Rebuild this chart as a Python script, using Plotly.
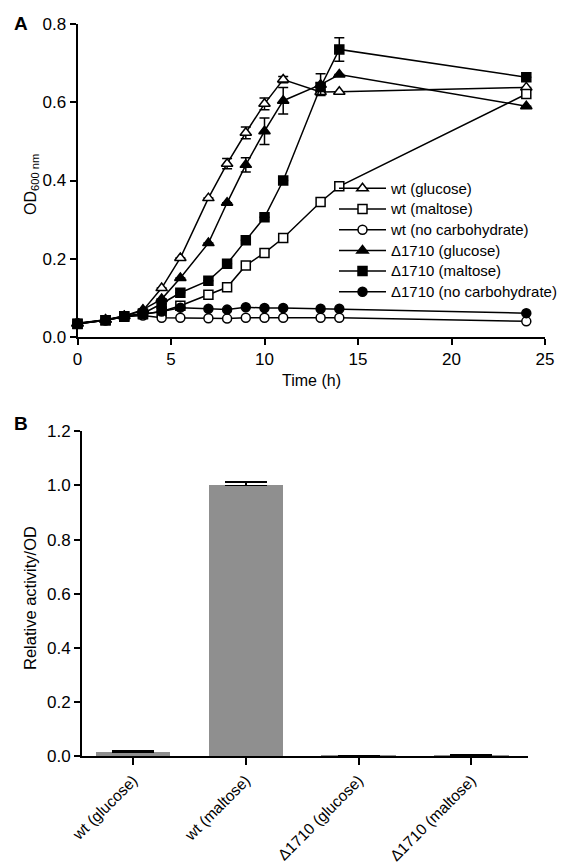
import plotly.graph_objects as go

# ---------------- Panel A data ----------------
time_h = [0, 1.5, 2.5, 3.5, 4.5, 5.5, 7, 8, 9, 10, 11, 13, 14, 24]

wt_glucose = [0.035, 0.044, 0.053, 0.068, 0.125, 0.202, 0.355, 0.443, 0.522, 0.596, 0.658, 0.626, 0.627, 0.638]
wt_glucose_err = [0, 0, 0, 0, 0, 0, 0, 0.013, 0.015, 0.015, 0.008, 0, 0, 0]

wt_maltose = [0.034, 0.043, 0.052, 0.058, 0.065, 0.080, 0.108, 0.127, 0.183, 0.215, 0.253, 0.345, 0.385, 0.621]

wt_nocarb = [0.035, 0.043, 0.052, 0.055, 0.049, 0.049, 0.048, 0.047, 0.049, 0.049, 0.049, 0.049, 0.049, 0.040]

d1710_glucose = [0.034, 0.044, 0.054, 0.070, 0.097, 0.151, 0.240, 0.343, 0.440, 0.526, 0.604, 0.645, 0.671, 0.590]
d1710_glucose_err = [0, 0, 0, 0, 0, 0, 0, 0, 0.018, 0.034, 0.034, 0.028, 0, 0]

d1710_maltose = [0.033, 0.043, 0.053, 0.060, 0.085, 0.113, 0.144, 0.187, 0.247, 0.306, 0.400, 0.639, 0.735, 0.664]
d1710_maltose_err = [0, 0, 0, 0, 0, 0, 0, 0, 0, 0, 0, 0.010, 0.030, 0]

d1710_nocarb = [0.034, 0.043, 0.053, 0.058, 0.065, 0.075, 0.072, 0.070, 0.076, 0.074, 0.074, 0.072, 0.072, 0.061]

series_names = ["wt (glucose)", "wt (maltose)", "wt (no carbohydrate)",
                "Δ1710 (glucose)", "Δ1710 (maltose)", "Δ1710 (no carbohydrate)"]

# ---------------- Panel B data ----------------
bar_categories = ["wt (glucose)", "wt (maltose)", "Δ1710 (glucose)", "Δ1710 (maltose)"]
bar_values = [0.015, 1.0, 0.002, 0.003]
bar_errors = [0.004, 0.013, 0.001, 0.002]

FONT = "Liberation Sans, Arial, sans-serif"
W, H = 566, 863

fig = go.Figure()

def add_series(y, name, symbol, filled, err=None):
    marker = dict(symbol=symbol, size=10 if 'triangle' in symbol else 9,
                  color="black" if filled else "white",
                  line=dict(color="black", width=1.5))
    kw = {}
    if err is not None:
        kw["error_y"] = dict(type="data", array=err, visible=True,
                             color="black", thickness=1.5, width=5)
    fig.add_trace(go.Scatter(
        x=time_h, y=y, name='<span style="font-size:15px">%s</span>' % name,
        mode="lines+markers",
        line=dict(color="black", width=1.5), marker=marker,
        cliponaxis=False, xaxis="x", yaxis="y", **kw))

add_series(wt_glucose, series_names[0], "triangle-up", False, wt_glucose_err)
add_series(wt_maltose, series_names[1], "square", False)
add_series(wt_nocarb, series_names[2], "circle", False)
add_series(d1710_glucose, series_names[3], "triangle-up", True, d1710_glucose_err)
add_series(d1710_maltose, series_names[4], "square", True, d1710_maltose_err)
add_series(d1710_nocarb, series_names[5], "circle", True)

fig.add_trace(go.Bar(
    x=list(range(len(bar_categories))), y=bar_values, width=0.66,
    marker=dict(color="#8f8f8f", line=dict(width=0)),
    error_y=dict(type="data", symmetric=False, array=bar_errors,
                 arrayminus=[0] * len(bar_errors),
                 color="black", thickness=1.8, width=21),
    showlegend=False, xaxis="x2", yaxis="y2"))

def px_x(p):
    return p / W

def px_y(p):
    return 1 - p / H

axis_common = dict(showline=True, linecolor="black", linewidth=1.8,
                   ticks="outside", tickcolor="black", tickwidth=1.8,
                   showgrid=False, zeroline=False, automargin=False)

num_font = dict(family=FONT, size=17, color="black")

fig.update_layout(
    width=W, height=H,
    margin=dict(l=0, r=0, t=0, b=0),
    paper_bgcolor="white", plot_bgcolor="white",
    font=dict(family=FONT, color="black"),
    bargap=0,
    xaxis=dict(domain=[px_x(69.5), px_x(537)], range=[0, 25],
               tickvals=[0, 5, 10, 15, 20, 25], ticklen=6,
               tickfont=num_font, anchor="y", **axis_common),
    yaxis=dict(domain=[px_y(329), px_y(16)], range=[0, 0.8],
               tickvals=[0, 0.2, 0.4, 0.6, 0.8], tickformat=".1f",
               ticklen=6, tickfont=num_font, anchor="x", **axis_common),
    xaxis2=dict(domain=[px_x(74), px_x(520)], range=[-0.452, 3.502],
                tickvals=list(range(len(bar_categories))),
                ticktext=bar_categories, tickangle=-45, ticklen=7,
                tickfont=dict(family=FONT, size=15.5, color="black"),
                anchor="y2", **axis_common),
    yaxis2=dict(domain=[px_y(748.3), px_y(423.3)], range=[0, 1.2],
                tickvals=[0, 0.2, 0.4, 0.6, 0.8, 1.0, 1.2], tickformat=".1f",
                ticklen=6, tickfont=num_font, anchor="x2", **axis_common),
    legend=dict(x=px_x(326), y=px_y(165), xanchor="left", yanchor="top",
                bgcolor="rgba(0,0,0,0)",
                font=dict(family=FONT, size=13.6, color="black"),
                itemwidth=47),
    showlegend=True,
)

annotations = [
    dict(text="<b>A</b>", x=px_x(4), y=px_y(3), xanchor="left", yanchor="top",
         font=dict(size=19)),
    dict(text="<b>B</b>", x=px_x(4), y=px_y(403), xanchor="left", yanchor="top",
         font=dict(size=19)),
    dict(text="OD<sub>600 nm</sub>", x=px_x(24), y=px_y(177), textangle=-90,
         xanchor="center", yanchor="middle", font=dict(size=16)),
    dict(text="Time (h)", x=px_x(303), y=px_y(372), xanchor="center",
         yanchor="middle", font=dict(size=16)),
    dict(text="Relative activity/OD", x=px_x(22), y=px_y(590), textangle=-90,
         xanchor="center", yanchor="middle", font=dict(size=16.5)),
]
for a in annotations:
    a.update(xref="paper", yref="paper", showarrow=False)
    a["font"].update(family=FONT, color="black")
fig.update_layout(annotations=annotations)

fig.write_html("out.html")
